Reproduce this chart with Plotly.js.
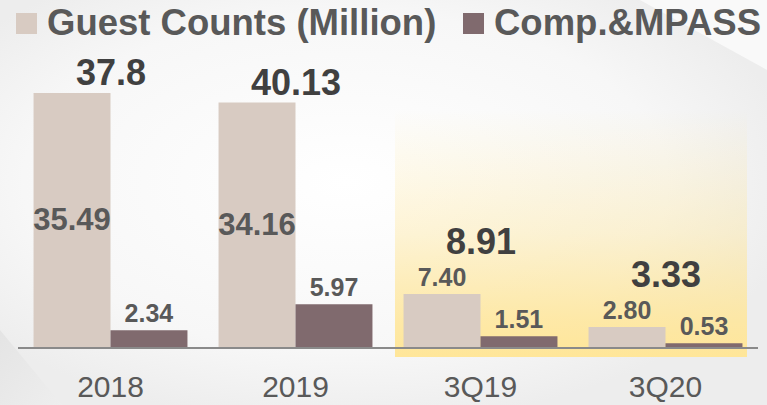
<!DOCTYPE html>
<html>
<head>
<meta charset="utf-8">
<script src="https://cdn.plot.ly/plotly-3.0.1.min.js"></script>
<style>
  html, body { margin: 0; padding: 0; background: #f4f4f4; }
  #chart { width: 767px; height: 405px; }
</style>
</head>
<body>
<div id="chart"></div>
<script>
// ---- data ----
const categories = ['2018', '2019', '3Q19', '3Q20'];
const guestCounts = [35.49, 34.16, 7.40, 2.80];
const compMpass = [2.34, 5.97, 1.51, 0.53];
const totals = [37.8, 40.13, 8.91, 3.33];
const guestLabels = ['35.49', '34.16', '7.40', '2.80'];
const compLabels = ['2.34', '5.97', '1.51', '0.53'];
const totalLabels = ['37.8', '40.13', '8.91', '3.33'];
const seriesNames = ['Guest Counts (Million)', 'Comp.&MPASS'];

// ---- styling ----
const FONT = 'Liberation Sans, Arial, sans-serif';
const BEIGE = '#d8cbc2';
const MAUVE = '#806a6e';
const TEXT = '#595959';
const colors = [BEIGE, MAUVE];

const guestPos = guestCounts.map(v => v > 10 ? 'inside' : 'outside');
const guestSizes = guestCounts.map(v => v > 10 ? 31 : 25);

const traces = [
  {
    type: 'bar', name: seriesNames[0], x: categories, y: guestCounts,
    text: guestLabels, textposition: guestPos, insidetextanchor: 'middle',
    textangle: 0, constraintext: 'none', cliponaxis: false,
    textfont: { family: FONT, size: guestSizes, color: TEXT, weight: 'bold' },
    marker: { color: BEIGE, line: { width: 0 } },
    hoverinfo: 'none'
  },
  {
    type: 'bar', name: seriesNames[1], x: categories, y: compMpass,
    text: compLabels, textposition: 'outside',
    textangle: 0, constraintext: 'none', cliponaxis: false,
    textfont: { family: FONT, size: 25, color: TEXT, weight: 'bold' },
    marker: { color: MAUVE, line: { width: 0 } },
    hoverinfo: 'none'
  }
];

// plot area: x 18..758, y 60..347
const L = 18, R = 9, T = 60, B = 58, W = 767 - L - R, H = 405 - T - B;
const px2x = p => (p - L) / W;
const px2y = p => (405 - B - p) / H;

// totals above each category (x given as category index so numeric-looking names are not read as numbers)
const annotations = categories.map((c, i) => ({
  x: i, y: guestCounts[i], xref: 'x', yref: 'y',
  text: totalLabels[i], showarrow: false,
  xanchor: 'center', yanchor: 'bottom',
  yshift: guestPos[i] === 'inside' ? -2 : 30,
  font: { family: FONT, size: 36, color: '#404040', weight: 'bold' }
}));

// hand-made legend (large square swatches like the reference)
const legendX = [16, 463];
const shapes = [];
seriesNames.forEach((name, i) => {
  shapes.push({
    type: 'rect', xref: 'paper', yref: 'paper', layer: 'above',
    x0: px2x(legendX[i]), x1: px2x(legendX[i] + 21),
    y0: px2y(34), y1: px2y(13),
    fillcolor: colors[i], line: { width: 0 }
  });
  annotations.push({
    xref: 'paper', yref: 'paper', x: px2x(legendX[i] + 29), y: px2y(23),
    xanchor: 'left', yanchor: 'middle', showarrow: false, text: name,
    font: { family: FONT, size: 36.5, color: TEXT, weight: 'bold' }
  });
});

function svgURI(s) { return 'data:image/svg+xml;charset=utf-8,' + encodeURIComponent(s); }

const bgSVG = "<svg xmlns='http://www.w3.org/2000/svg' viewBox='0 0 767 405' width='767' height='405' preserveAspectRatio='none'>" +
  "<defs><radialGradient id='r' cx='0.45' cy='0.45' r='0.6'><stop offset='0' stop-color='#ffffff'/><stop offset='0.7' stop-color='#f7f7f7'/><stop offset='1' stop-color='#ededed'/></radialGradient>" +
  "<linearGradient id='d' x1='0' y1='0' x2='1' y2='1'><stop offset='0' stop-color='#e4e4e4'/><stop offset='1' stop-color='#eeeeee'/></linearGradient></defs>" +
  "<rect width='767' height='405' fill='url(#r)'/>" +
  "<polygon points='0,330 0,405 62,405' fill='url(#d)'/>" +
  "<polygon points='640,0 767,0 767,70' fill='#f9f9f9'/>" +
  "</svg>";

const hlSVG = "<svg xmlns='http://www.w3.org/2000/svg' viewBox='0 0 100 100' width='100' height='100' preserveAspectRatio='none'>" +
  "<defs><linearGradient id='g' x1='0' y1='0' x2='0' y2='1'>" +
  "<stop offset='0' stop-color='#ffe699' stop-opacity='0'/>" +
  "<stop offset='0.5' stop-color='#ffe699' stop-opacity='0.4'/>" +
  "<stop offset='0.85' stop-color='#ffe699' stop-opacity='0.85'/>" +
  "<stop offset='1' stop-color='#ffe699' stop-opacity='1'/>" +
  "</linearGradient></defs><rect width='100' height='100' fill='url(#g)'/></svg>";

const layout = {
  width: 767, height: 405,
  margin: { l: L, r: R, t: T, b: B, autoexpand: false },
  paper_bgcolor: '#f4f4f4', plot_bgcolor: 'rgba(0,0,0,0)',
  barmode: 'group', bargap: 0.168, bargroupgap: 0,
  font: { family: FONT, color: TEXT },
  showlegend: false,
  xaxis: {
    type: 'category', range: [-0.5, 3.5],
    showline: true, linecolor: '#8a8a8a', linewidth: 2,
    showgrid: false, zeroline: false, ticks: '',
    tickfont: { family: FONT, size: 30, color: TEXT },
    ticklabelstandoff: 12, fixedrange: true
  },
  yaxis: {
    range: [0, 40.1], visible: false, showgrid: false, zeroline: false, fixedrange: true
  },
  annotations: annotations,
  shapes: shapes,
  images: [
    { source: svgURI(bgSVG), xref: 'paper', yref: 'paper',
      x: px2x(0), y: px2y(0), sizex: 767 / W, sizey: 405 / H,
      xanchor: 'left', yanchor: 'top', sizing: 'stretch', layer: 'below' },
    { source: svgURI(hlSVG), xref: 'paper', yref: 'paper',
      x: px2x(395), y: px2y(110), sizex: (747 - 395) / W, sizey: (357 - 110) / H,
      xanchor: 'left', yanchor: 'top', sizing: 'stretch', layer: 'below' }
  ]
};

Plotly.newPlot('chart', traces, layout, { displayModeBar: false, staticPlot: true });
</script>
</body>
</html>
